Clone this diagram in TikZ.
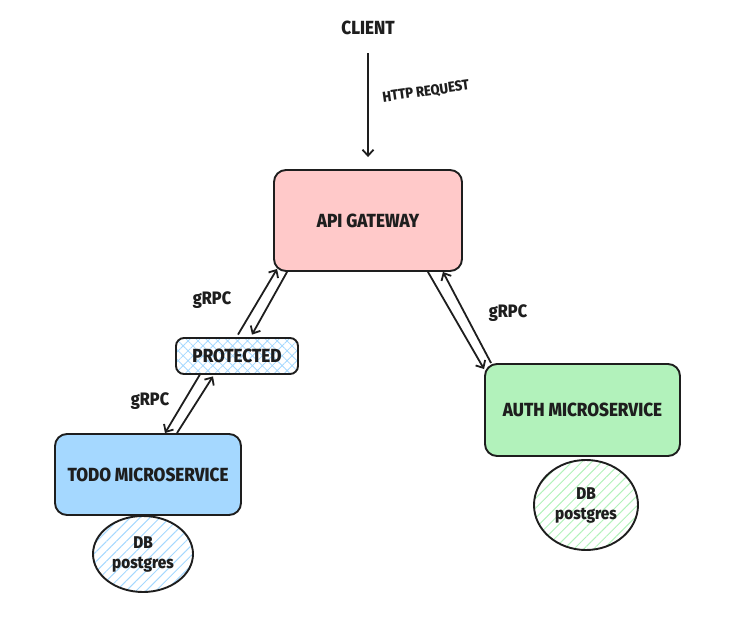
\documentclass[tikz,border=0pt]{standalone}
\usepackage{fontspec}
\setmainfont{Fira Sans}[FakeStretch=0.9, BoldFont={Fira Sans ExtraBold}]
\usetikzlibrary{positioning, arrows.meta, shapes.geometric, patterns.meta}
\definecolor{gatewaypink}{HTML}{FFC9C9}
\definecolor{todoblue}{HTML}{A5D8FF}
\definecolor{authgreen}{HTML}{B2F2BB}
\definecolor{inkgray}{HTML}{1E1E1E}
\tikzstyle{arrow} = [line width=1.8pt, draw=inkgray, -{Straight Barb[length=6pt,width=11pt]}]

\begin{document}
\begin{tikzpicture}[x=1pt,y=-1pt]
                    \tikzstyle{every node}=[font=\bfseries\fontsize{19}{22}\selectfont, text=inkgray]
                    \tikzstyle{service} = [rectangle, rounded corners=12pt, draw=inkgray, line width=1.9pt]
                    \tikzstyle{dbnode} = [ellipse, draw=inkgray, line width=1.9pt, align=center, inner sep=0pt, font=\bfseries\fontsize{17}{20}\selectfont]
                    \tikzstyle{label} = [font=\bfseries\fontsize{18}{20}\selectfont]
                    \useasboundingbox (0,0) rectangle (739,628);

                    \node(client) at (368,28) {CLIENT};
                    \node[service, fill=gatewaypink, minimum width=188pt, minimum height=101pt](api) at (368,220.5) {API GATEWAY};
                    \node[service, rounded corners=8pt, minimum width=122pt, minimum height=36pt, pattern={Hatch[angle=45,distance=7pt,line width=0.8pt]}, pattern color=todoblue](prot) at (237,356) {PROTECTED};
                    \node[service, fill=todoblue, minimum width=186pt, minimum height=81pt](todo) at (148,474.5) {TODO MICROSERVICE};
                    \node[service, fill=authgreen, minimum width=195pt, minimum height=92pt](auth) at (582.5,410) {AUTH MICROSERVICE};
                    \node[dbnode, minimum width=100pt, minimum height=76pt, pattern={Lines[angle=45,distance=7pt,line width=1pt]}, pattern color=todoblue](tododb) at (143,554) {DB\\postgres};
                    \node[dbnode, minimum width=104pt, minimum height=90pt, pattern={Lines[angle=45,distance=7pt,line width=1pt]}, pattern color=authgreen](authdb) at (586,505) {DB\\postgres};

                    \node[rotate=8, font=\bfseries\fontsize{14.5}{16}\selectfont](http) at (426,92) {HTTP REQUEST};
                    \node[label](grpcgw) at (212,300) {gRPC};
                    \node[label](grpctodo) at (150,401) {gRPC};
                    \node[label](grpcauth) at (508,313) {gRPC};

                    \draw[arrow, shorten <=15pt, shorten >=12pt] (client) -- (api);
                    \draw[arrow] ([xshift=1pt,yshift=3pt]prot.north) -- ([xshift=4pt,yshift=3pt]api.south west);
                    \draw[arrow] ([xshift=14pt]api.south west) -- ([xshift=15pt,yshift=3pt]prot.north);
                    \draw[arrow] ([xshift=-37pt]prot.south) -- ([xshift=17pt]todo.north);
                    \draw[arrow] ([xshift=29pt]todo.north) -- ([xshift=-24pt,yshift=-2pt]prot.south);
                    \draw[arrow] ([xshift=-35pt]api.south east) -- ([yshift=-6pt]auth.north west);
                    \draw[arrow] ([xshift=7pt]auth.north west) -- ([xshift=-20pt]api.south east);
\end{tikzpicture}
\end{document}
